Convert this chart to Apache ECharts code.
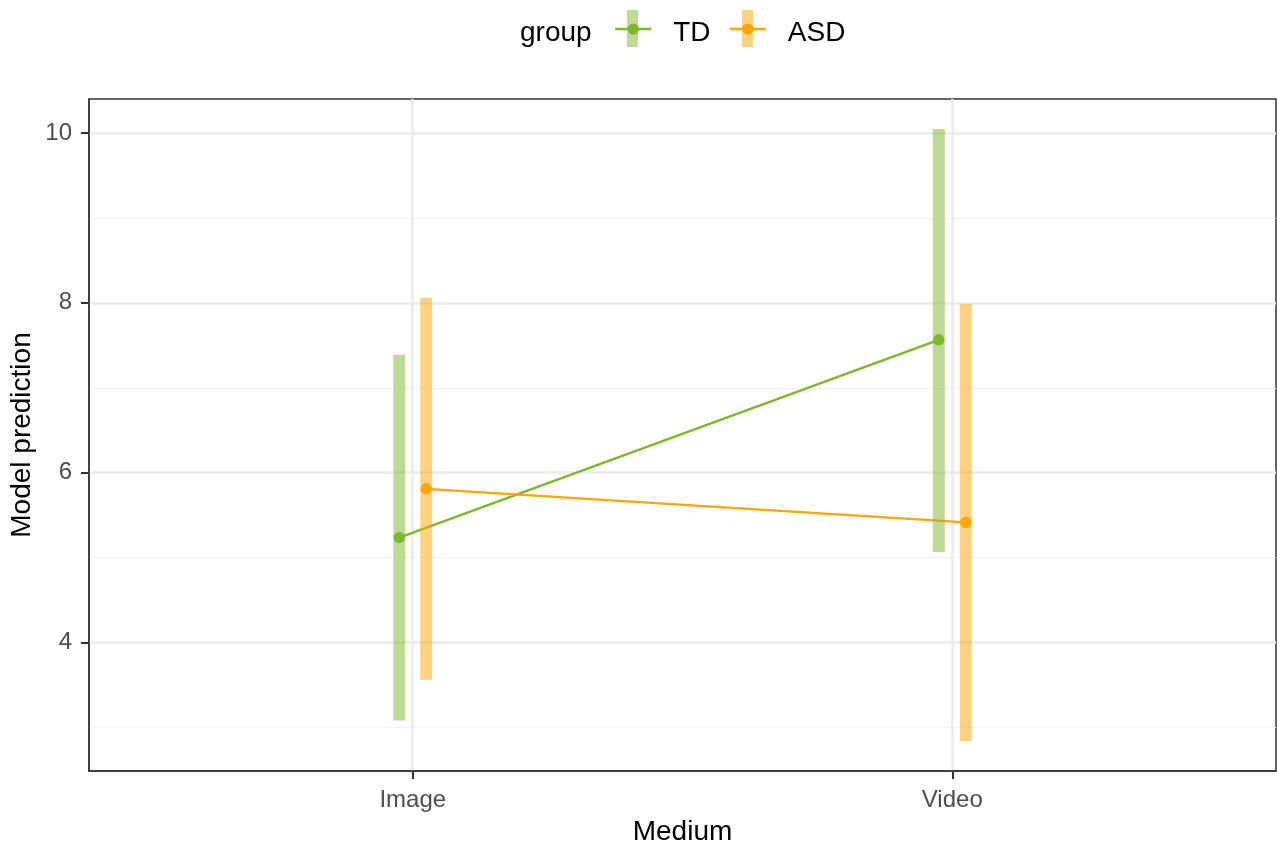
<!DOCTYPE html>
<html>
<head>
<meta charset="utf-8">
<script src="https://cdn.jsdelivr.net/npm/echarts@6/dist/echarts.min.js"></script>
<style>
html, body { margin: 0; padding: 0; background: #fff; }
#chart { width: 1277px; height: 844px; }
</style>
</head>
<body>
<div id="chart"></div>
<script>
const mediums = ['Image', 'Video'];
const groups = ['TD', 'ASD'];
const tdMean = [5.235, 7.565];
const tdLow = [3.082, 5.067];
const tdHigh = [7.388, 10.047];
const asdMean = [5.81, 5.415];
const asdLow = [3.561, 2.839];
const asdHigh = [8.059, 7.985];
const yMajor = [4, 6, 8, 10];
const yMinor = [3, 5, 7, 9];

const colors = { TD: '#7cb82a', ASD: '#ffa500' };
const barColors = { TD: 'rgba(124,184,42,0.5)', ASD: 'rgba(255,165,0,0.5)' };
const dodge = { TD: -0.025, ASD: 0.025 };
const font = 'Liberation Sans, Arial, sans-serif';

const chart = echarts.init(document.getElementById('chart'));

const pts = (mean, g) => mean.map((v, i) => [i + 1 + dodge[g], v]);
const ranges = (low, high, g) => low.map((v, i) => [i + 1 + dodge[g], v, high[i]]);

const barSeries = (g, low, high) => ({
    name: g,
    type: 'custom',
    z: 3,
    silent: true,
    data: ranges(low, high, g),
    renderItem: (params, api) => {
        const top = api.coord([api.value(0), api.value(2)]);
        const bottom = api.coord([api.value(0), api.value(1)]);
        return {
            type: 'rect',
            shape: { x: top[0] - 6, y: top[1], width: 12, height: bottom[1] - top[1] },
            style: { fill: barColors[g] }
        };
    }
});

const lineSeries = (g, mean) => ({
    name: g,
    type: 'line',
    z: 2,
    data: pts(mean, g),
    symbol: 'circle',
    symbolSize: 11,
    showSymbol: true,
    itemStyle: { color: colors[g] },
    lineStyle: { color: colors[g], width: 2.4 }
});

const pointSeries = (g, mean) => ({
    name: g,
    type: 'scatter',
    z: 4,
    data: pts(mean, g),
    symbolSize: 11,
    itemStyle: { color: colors[g], opacity: 1 }
});

const barLegend = (g, left) => ({
    left: left,
    top: 10,
    padding: 0,
    orient: 'horizontal',
    itemWidth: 11,
    itemHeight: 37,
    formatter: () => '',
    selectedMode: false,
    data: [{ name: g, icon: 'rect', itemStyle: { color: barColors[g], opacity: 1 } }]
});

chart.setOption({
    animation: false,
    textStyle: { fontFamily: font },
    title: {
        text: 'group',
        left: 520,
        top: 19,
        padding: 0,
        textStyle: { fontSize: 28, fontWeight: 'normal', color: '#000', fontFamily: font }
    },
    legend: [
        barLegend('TD', 627),
        barLegend('ASD', 742),
        {
            left: 614,
            top: 19,
            padding: 0,
            orient: 'horizontal',
            itemWidth: 36,
            itemHeight: 14,
            itemGap: 18,
            selectedMode: false,
            lineStyle: { width: 2.5 },
            formatter: name => '{t|' + name + '}',
            textStyle: {
                fontSize: 28,
                color: '#000',
                fontFamily: font,
                rich: { t: { fontSize: 28, color: '#000', fontFamily: font, padding: [8, 0, 0, 17] } }
            },
            data: groups
        }
    ],
    grid: {
        left: 89,
        top: 99,
        width: 1187,
        height: 672,
        show: true,
        borderColor: '#333',
        borderWidth: 1.5,
        containLabel: false,
        outerBoundsMode: 'none'
    },
    xAxis: {
        type: 'value',
        min: 0.4,
        max: 2.6,
        name: 'Medium',
        nameLocation: 'middle',
        nameGap: 47,
        nameTextStyle: { fontSize: 28, color: '#000', fontFamily: font },
        axisLine: { show: true, lineStyle: { color: '#333', width: 1.5 } },
        axisTick: { show: true, customValues: [1, 2], length: 8, lineStyle: { color: '#333', width: 2 } },
        axisLabel: {
            customValues: [1, 2],
            formatter: v => mediums[Math.round(v) - 1],
            fontSize: 24,
            color: '#4d4d4d',
            margin: 17,
            fontFamily: font
        },
        splitLine: { show: true, lineStyle: { color: '#ebebeb', width: 2.5 } }
    },
    yAxis: [
        {
            type: 'value',
            min: 2.488,
            max: 10.4,
            name: 'Model prediction',
            nameLocation: 'middle',
            nameGap: 53,
            nameMoveOverlap: false,
            nameTextStyle: { fontSize: 28, color: '#000', fontFamily: font },
            axisLine: { show: true, lineStyle: { color: '#333', width: 1.5 } },
            axisTick: { show: true, customValues: yMajor, length: 8, lineStyle: { color: '#333', width: 2 } },
            axisLabel: {
                customValues: yMajor,
                fontSize: 24,
                color: '#4d4d4d',
                margin: 17,
                fontFamily: font
            },
            splitLine: { show: true, lineStyle: { color: '#ebebeb', width: 2.5 } }
        },
        {
            type: 'value',
            min: 2.488,
            max: 10.4,
            axisLine: { show: false },
            axisTick: { show: false, customValues: yMinor },
            axisLabel: { show: false },
            splitLine: { show: true, lineStyle: { color: '#f3f3f3', width: 1.2 } }
        }
    ],
    series: [
        lineSeries('TD', tdMean),
        lineSeries('ASD', asdMean),
        barSeries('TD', tdLow, tdHigh),
        barSeries('ASD', asdLow, asdHigh),
        pointSeries('TD', tdMean),
        pointSeries('ASD', asdMean)
    ]
});
</script>
</body>
</html>
